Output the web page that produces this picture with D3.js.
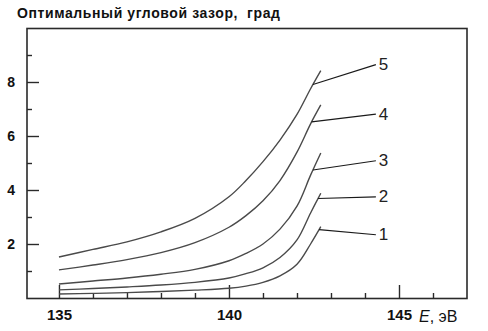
<!DOCTYPE html>
<html>
<head>
<meta charset="utf-8">
<script src="https://cdn.jsdelivr.net/npm/d3@7"></script>
<style>
  body { margin: 0; background: #fff; }
  svg { display: block; font-family: "Liberation Sans", Arial, sans-serif; }
</style>
</head>
<body>
<svg id="chart" width="488" height="331"></svg>
<script>
// energies, eV
var energies = [135, 136, 137, 138, 139, 140, 140.5, 141, 141.5, 142, 142.4, 142.7];

// optimal angular gap, deg, curves 1..5
var curve_1 = [0.15, 0.17, 0.20, 0.24, 0.29, 0.36, 0.44, 0.58, 0.82, 1.25, 2.00, 2.64];
var curve_2 = [0.30, 0.35, 0.41, 0.48, 0.58, 0.74, 0.90, 1.12, 1.50, 2.15, 3.15, 3.88];
var curve_3 = [0.52, 0.63, 0.74, 0.88, 1.06, 1.38, 1.65, 2.00, 2.55, 3.40, 4.55, 5.37];
var curve_4 = [1.04, 1.22, 1.42, 1.68, 2.05, 2.62, 3.05, 3.60, 4.35, 5.40, 6.45, 7.15];
var curve_5 = [1.52, 1.80, 2.08, 2.45, 2.95, 3.75, 4.35, 5.05, 5.85, 6.80, 7.75, 8.42];

var curves = [curve_1, curve_2, curve_3, curve_4, curve_5];
var curve_names = ["1", "2", "3", "4", "5"];

// where each leader line leaves its curve, and where its label sits
var leader_from = [142.65, 142.62, 142.47, 142.43, 142.47];
var leader_to_e = 144.32;
var label_vals = [2.38, 3.78, 5.12, 6.85, 8.68];

var x_major = [135, 140, 145];
var x_minor = [136, 137, 138, 139, 141, 142, 143, 144, 146];
var y_major = [2, 4, 6, 8];
var y_minor = [1, 3, 5, 7, 9];

var title_text = "Оптимальный угловой зазор,  град";

var svg = d3.select("#chart");
var x = d3.scaleLinear().domain([134.06, 147]).range([27, 467]);
var y = d3.scaleLinear().domain([0, 10]).range([298, 28]);

var ink = "#2a2a2a";

// frame
svg.append("rect")
   .attr("x", x.range()[0])
   .attr("y", y.range()[1] + 0.5)
   .attr("width", x.range()[1] - x.range()[0])
   .attr("height", y.range()[0] - y.range()[1])
   .attr("fill", "none")
   .attr("stroke", ink)
   .attr("stroke-width", 1.6);

// ticks point inward
function draw_axis (g, axis) {
  g.call(axis);
  g.select(".domain").remove();
  g.selectAll(".tick line").attr("stroke", ink).attr("stroke-width", 1.4);
  return g;
}

var gx = svg.append("g").attr("transform", "translate(0," + y(0) + ")");
draw_axis(gx, d3.axisBottom(x).tickValues(x_major).tickSize(-13).tickPadding(11).tickFormat(d3.format("d")));
gx.selectAll("text")
  .attr("fill", "#111")
  .style("font-size", "15px")
  .style("font-weight", "bold");

var gx_minor = svg.append("g").attr("transform", "translate(0," + y(0) + ")");
draw_axis(gx_minor, d3.axisBottom(x).tickValues(x_minor).tickSize(-5).tickFormat(""));

var gy = svg.append("g").attr("transform", "translate(" + x.range()[0] + ",0)");
draw_axis(gy, d3.axisLeft(y).tickValues(y_major).tickSize(-12).tickPadding(12).tickFormat(d3.format("d")));
gy.selectAll("text")
  .attr("fill", "#111")
  .style("font-size", "14px")
  .style("font-weight", "bold");

var gy_minor = svg.append("g").attr("transform", "translate(" + x.range()[0] + ",0)");
draw_axis(gy_minor, d3.axisLeft(y).tickValues(y_minor).tickSize(-5).tickFormat(""));

// curves
var line = d3.line()
  .x(function (d) { return x(d[0]); })
  .y(function (d) { return y(d[1]); })
  .curve(d3.curveCatmullRom.alpha(0.5));

curves.forEach(function (vals, i) {
  var pts = energies.map(function (e, j) { return [e, vals[j]]; });
  svg.append("path")
     .attr("d", line(pts))
     .attr("fill", "none")
     .attr("stroke", "#4a4a4a")
     .attr("stroke-width", 1.4);

  // leader line from the curve to its number
  var on_curve = d3.scaleLinear().domain(energies).range(vals);
  svg.append("line")
     .attr("x1", x(leader_from[i]))
     .attr("y1", y(on_curve(leader_from[i])))
     .attr("x2", x(leader_to_e))
     .attr("y2", y(label_vals[i]) + 1)
     .attr("stroke", "#1a1a1a")
     .attr("stroke-width", 1.2);

  svg.append("text")
     .attr("x", x(leader_to_e) + 3)
     .attr("y", y(label_vals[i]) + 6.5)
     .attr("fill", "#222")
     .style("font-size", "17px")
     .text(curve_names[i]);
});

// titles
svg.append("text")
   .attr("x", 17)
   .attr("y", 18)
   .attr("fill", "#111")
   .style("font-size", "14px")
   .style("font-weight", "bold")
   .style("letter-spacing", "0.6px")
   .style("white-space", "pre")
   .text(title_text);

var xl = svg.append("text")
   .attr("x", 419)
   .attr("y", 322)
   .attr("fill", "#111")
   .style("font-size", "16px");
xl.append("tspan").style("font-style", "italic").text("E");
xl.append("tspan").text(", эВ");
</script>
</body>
</html>
